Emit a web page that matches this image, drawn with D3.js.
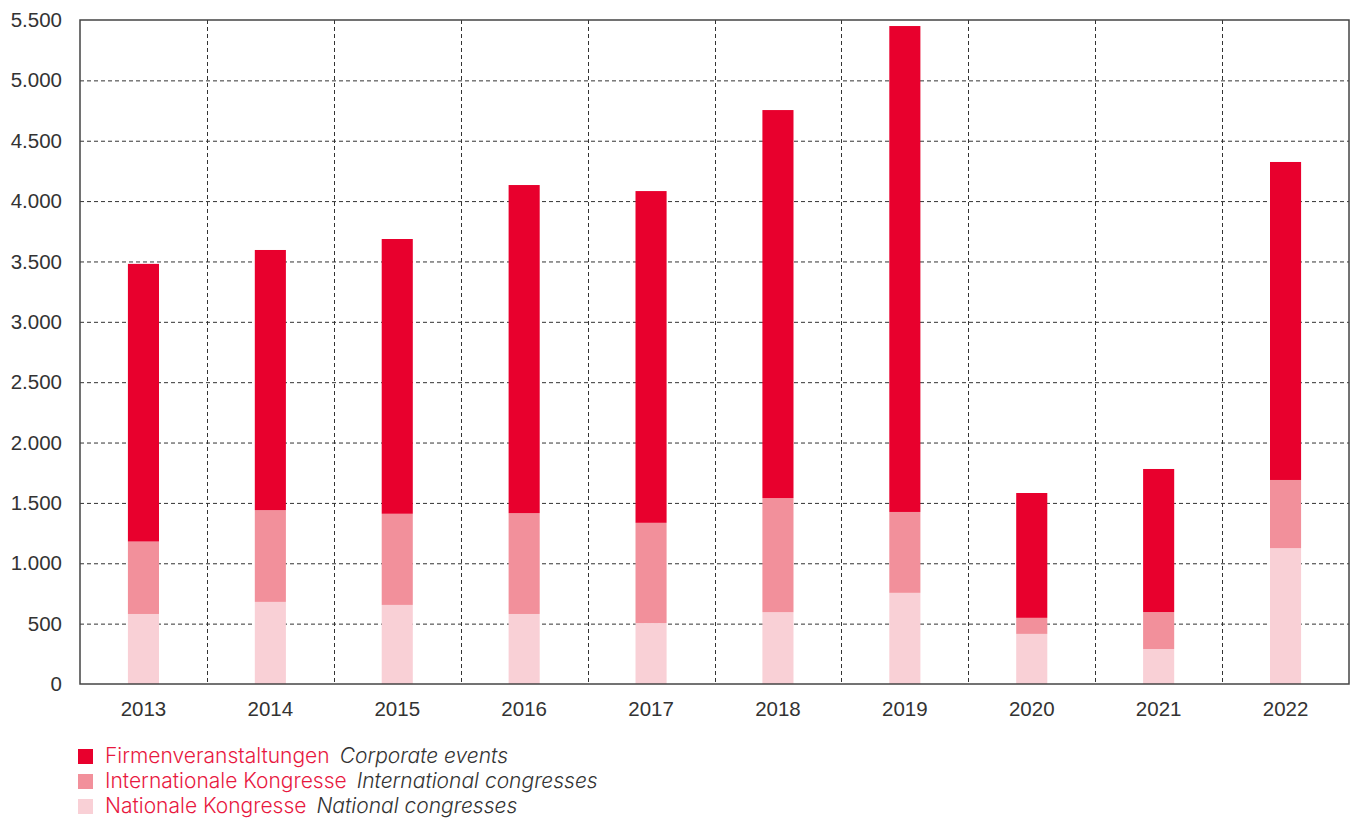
<!DOCTYPE html>
<html>
<head>
<meta charset="utf-8">
<script src="https://cdn.jsdelivr.net/npm/d3@7"></script>
<style>
  body { margin: 0; background: #fff; }
  svg { display: block; font-family: Inter, Roboto, "Noto Sans", sans-serif; }
</style>
</head>
<body>
<svg id="chart" width="1354" height="820"></svg>
<script>
(function () {
'use strict';

// data
var years = ['2013', '2014', '2015', '2016', '2017', '2018', '2019', '2020', '2021', '2022'];
var nationalCongresses = [580, 680, 655, 580, 505, 595, 755, 415, 290, 1125];
var internationalCongresses = [600, 760, 755, 835, 830, 945, 670, 133, 306, 565];
var corporateEvents = [2300, 2155, 2276, 2718, 2748, 3214, 4025, 1034, 1185, 2634];
var yTicks = [0, 500, 1000, 1500, 2000, 2500, 3000, 3500, 4000, 4500, 5000, 5500];

var seriesKeys = ['nat', 'intl', 'corp'];
var seriesLabels = {
    corp: ['Firmenveranstaltungen', 'Corporate events'],
    intl: ['Internationale Kongresse', 'International congresses'],
    nat: ['Nationale Kongresse', 'National congresses']
};
var legendOrder = ['corp', 'intl', 'nat'];

var COLORS = { corp: '#e8002d', intl: '#f2909b', nat: '#f9d0d6' };
var LABEL_RED = '#e8193f';
var TEXT_COLOR = '#333';
var GRID_COLOR = '#333';
var FRAME_COLOR = '#444';

var LEFT = 80, RIGHT = 1349, TOP = 20, BOTTOM = 684;
var BAR_FRACTION = 0.245;

var svg = d3.select('#chart');

var rows = years.map(function (y, i) {
    return { year: y, nat: nationalCongresses[i], intl: internationalCongresses[i], corp: corporateEvents[i] };
});

var x = d3.scaleBand().domain(years).range([LEFT, RIGHT]).padding(0);
var y = d3.scaleLinear().domain([0, 5500]).range([BOTTOM, TOP]);

var fmt = d3.formatLocale({ decimal: ',', thousands: '.', grouping: [3], currency: ['', ''] }).format(',');

// horizontal grid
svg.append('g')
    .selectAll('line')
    .data(yTicks.filter(function (t) { return t > 0 && t < 5500; }))
    .join('line')
    .attr('x1', LEFT).attr('x2', RIGHT)
    .attr('y1', function (d) { return y(d) + 0.5; })
    .attr('y2', function (d) { return y(d) + 0.5; })
    .style('stroke', GRID_COLOR)
    .style('stroke-width', 1)
    .style('stroke-dasharray', '4,3');

// vertical grid on category boundaries
svg.append('g')
    .selectAll('line')
    .data(years.slice(1))
    .join('line')
    .attr('x1', function (d) { return Math.round(x(d)) + 0.5; })
    .attr('x2', function (d) { return Math.round(x(d)) + 0.5; })
    .attr('y1', TOP).attr('y2', BOTTOM)
    .style('stroke', GRID_COLOR)
    .style('stroke-width', 1)
    .style('stroke-dasharray', '4,3');

// stacked bars
var stack = d3.stack().keys(seriesKeys)(rows);
var bw = x.bandwidth() * BAR_FRACTION;

svg.append('g')
    .selectAll('g')
    .data(stack)
    .join('g')
    .attr('fill', function (d) { return COLORS[d.key]; })
    .selectAll('rect')
    .data(function (d) { return d; })
    .join('rect')
    .attr('x', function (d) { return x(d.data.year) + (x.bandwidth() - bw) / 2; })
    .attr('width', bw)
    .attr('y', function (d) { return y(d[1]); })
    .attr('height', function (d) { return y(d[0]) - y(d[1]); });

// frame
svg.append('rect')
    .attr('x', LEFT).attr('y', TOP)
    .attr('width', RIGHT - LEFT).attr('height', BOTTOM - TOP)
    .attr('fill', 'none')
    .style('stroke', FRAME_COLOR)
    .style('stroke-width', 1.5);

// axes
var yAxis = svg.append('g')
    .attr('transform', 'translate(' + LEFT + ',0)')
    .call(d3.axisLeft(y).tickValues(yTicks).tickFormat(fmt).tickSize(0).tickPadding(18));
yAxis.select('.domain').remove();
yAxis.selectAll('text')
    .style('font-size', '20.5px')
    .style('font-weight', 300)
    .style('fill', TEXT_COLOR);

var xAxis = svg.append('g')
    .attr('transform', 'translate(0,' + BOTTOM + ')')
    .call(d3.axisBottom(x).tickSize(0).tickPadding(17));
xAxis.select('.domain').remove();
xAxis.selectAll('text')
    .style('font-size', '20.5px')
    .style('font-weight', 300)
    .style('fill', TEXT_COLOR);

// legend
var legend = svg.append('g')
    .selectAll('g')
    .data(legendOrder)
    .join('g')
    .attr('transform', function (d, i) { return 'translate(78,' + (749 + i * 25) + ')'; });

legend.append('rect')
    .attr('width', 15).attr('height', 15)
    .attr('fill', function (d) { return COLORS[d]; });

var txt = legend.append('text')
    .attr('x', 27).attr('y', 14)
    .style('font-size', '21px')
    .style('font-weight', 300);
txt.append('tspan')
    .style('fill', LABEL_RED)
    .text(function (d) { return seriesLabels[d][0]; });
txt.append('tspan')
    .attr('dx', 10)
    .style('fill', TEXT_COLOR)
    .style('font-style', 'italic')
    .text(function (d) { return seriesLabels[d][1]; });

})();
</script>
</body>
</html>
